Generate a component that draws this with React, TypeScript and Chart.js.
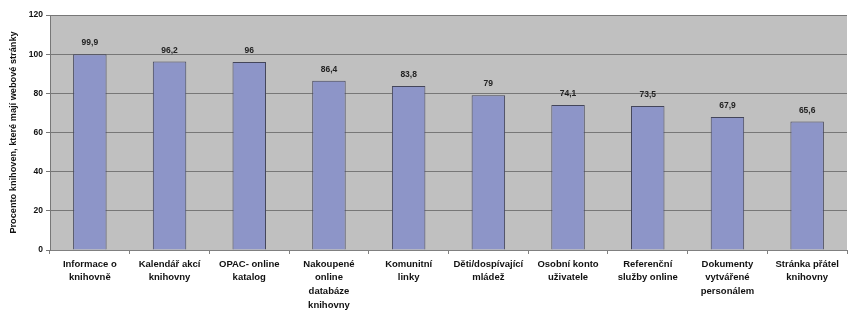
import React, { useEffect, useRef } from "react";
import { Chart, registerables } from "chart.js";

Chart.register(...registerables);

const categories: string[][] = [
  ["Informace o", "knihovně"],
  ["Kalendář akcí", "knihovny"],
  ["OPAC- online", "katalog"],
  ["Nakoupené", "online", "databáze", "knihovny"],
  ["Komunitní", "linky"],
  ["Děti/dospívající", "mládež"],
  ["Osobní konto", "uživatele"],
  ["Referenční", "služby online"],
  ["Dokumenty", "vytvářené", "personálem"],
  ["Stránka přátel", "knihovny"],
];
const values: number[] = [99.9, 96.2, 96, 86.4, 83.8, 79, 74.1, 73.5, 67.9, 65.6];
const yTicks: number[] = [0, 20, 40, 60, 80, 100, 120];
const yTitle = "Procento knihoven, které mají webové stránky";

const FONT = "'Liberation Sans', Arial, sans-serif";

const bgPlugin = {
  id: "plotBg",
  beforeDraw(chart: any) {
    const { ctx, chartArea } = chart;
    ctx.save();
    ctx.fillStyle = "#c0c0c0";
    ctx.fillRect(chartArea.left, chartArea.top, chartArea.right - chartArea.left, chartArea.bottom - chartArea.top);
    ctx.restore();
  },
};

const labelPlugin = {
  id: "valLabels",
  afterDatasetsDraw(chart: any) {
    const { ctx } = chart;
    const meta = chart.getDatasetMeta(0);
    ctx.save();
    ctx.font = `bold 8.5px ${FONT}`;
    ctx.fillStyle = "#222";
    ctx.textAlign = "center";
    ctx.textBaseline = "bottom";
    meta.data.forEach((el: any, i: number) => {
      const txt = String(values[i]).replace(".", ",");
      ctx.fillText(txt, el.x, el.y - 7);
    });
    ctx.restore();
  },
};

export default function App() {
  const ref = useRef<HTMLCanvasElement>(null);
  useEffect(() => {
    document.body.style.margin = "0";
    const chart = new Chart(ref.current!, {
      type: "bar",
      data: {
        labels: categories,
        datasets: [
          {
            data: values,
            backgroundColor: "#8d95c8",
            borderColor: "#44465a",
            borderWidth: 1,
            categoryPercentage: 1,
            barPercentage: 0.42,
          },
        ],
      },
      options: {
        animation: false,
        responsive: false,
        maintainAspectRatio: false,
        layout: { padding: { top: 15, right: 2, left: 8, bottom: 0 } },
        plugins: { legend: { display: false }, tooltip: { enabled: false } },
        scales: {
          x: {
            offset: true,
            grid: { offset: true, drawOnChartArea: false, tickLength: 4, color: "#808080" },
            border: { color: "#808080" },
            ticks: {
              color: "#111",
              font: { family: FONT, size: 9.5, weight: "bold", lineHeight: 1.45 },
              maxRotation: 0,
              autoSkip: false,
              padding: 3,
            },
            afterFit(scale: any) {
              scale.height = 60;
            },
          },
          y: {
            min: 0,
            max: 120,
            afterBuildTicks(scale: any) {
              scale.ticks = yTicks.map((v) => ({ value: v }));
            },
            grid: { color: "#777777", tickLength: 4 },
            border: { color: "#777777" },
            ticks: {
              color: "#111",
              font: { family: FONT, size: 8.5, weight: "bold" },
              padding: 3,
            },
            title: {
              display: true,
              text: yTitle,
              color: "#111",
              font: { family: FONT, size: 9.2, weight: "bold" },
              padding: { top: 0, bottom: 0 },
            },
            afterFit(scale: any) {
              scale.width = 42;
            },
          },
        },
      },
      plugins: [bgPlugin, labelPlugin],
    } as any);
    return () => chart.destroy();
  }, []);
  return (
    <div style={{ position: "absolute", left: 0, top: 0, width: 849, height: 310, background: "#fff" }}>
      <canvas ref={ref} width={849} height={310} style={{ width: 849, height: 310 }} />
    </div>
  );
}
